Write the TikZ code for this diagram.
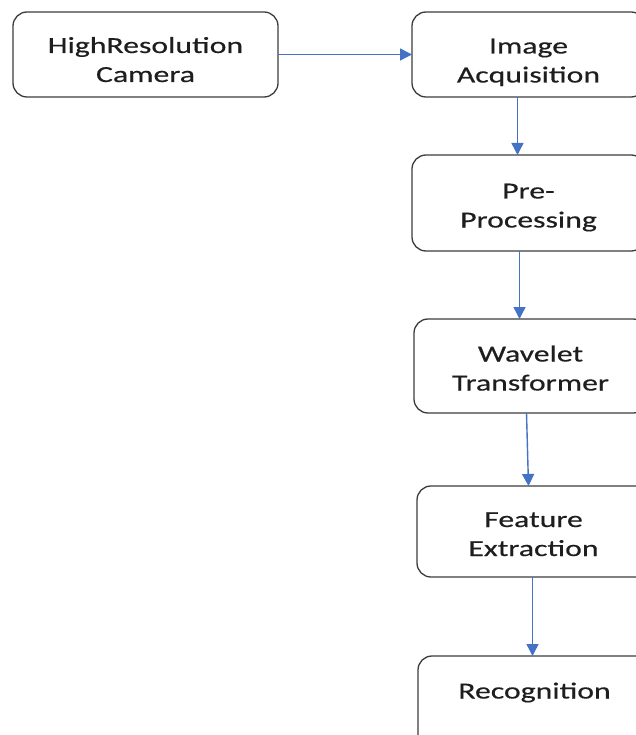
\documentclass[tikz,border=0pt]{standalone}
\usepackage{fontspec}
\setmainfont{Carlito}[FakeStretch=1.38, FakeBold=0.4]
\usepackage{tikz}
\usetikzlibrary{arrows.meta,positioning}
\definecolor{flowblue}{RGB}{68,114,196}
\definecolor{boxgray}{RGB}{60,60,60}
\definecolor{textgray}{RGB}{30,30,30}

\begin{document}
\begin{tikzpicture}[x=1pt, y=1pt, node distance=58pt, auto,
		stage/.style={draw=boxgray, line width=1.3pt, rounded corners=14pt, align=center,
			minimum width=233pt, minimum height=85pt, inner sep=0pt, outer sep=0pt,
			text height=49pt, text depth=0pt, text=textgray, font=\fontsize{23}{29}\selectfont},
		flow/.style={draw=flowblue, line width=1.4pt, -{Triangle[length=12pt, width=12pt]}}]
					\useasboundingbox (0,0) rectangle (636,-735);
					\node[stage, minimum width=265pt, text height=55pt] (camera) at (145.5,-54.5) {HighResolution\\Camera};
					\node[stage, right=134pt of camera, text height=56pt] (acq) {Image\\Acquisition};
					\node[stage, below=58pt of acq, minimum height=96pt] (pre) {Pre-\\Processing};
					\node[stage, below=68pt of pre, minimum height=94pt, xshift=2pt] (wavelet) {Wavelet\\Transformer};
					\node[stage, below=73pt of wavelet, minimum height=91pt, xshift=3pt] (feature) {Feature\\Extraction};
					\node[stage, below=79pt of feature, minimum height=94pt, text height=16pt, text depth=25pt, xshift=1pt] (recog) {Recognition};
			
					\draw[flow] (camera) -- (acq);
					\draw[flow] ([xshift=-11pt]acq.south) -- ([xshift=-11pt]pre.north);
					\draw[flow] ([xshift=-9pt]pre.south) -- ([xshift=-11pt]wavelet.north);
					\draw[flow] ([xshift=-4pt]wavelet.south) -- ([xshift=-5pt]feature.north);
					\draw[flow] ([xshift=-1pt]feature.south) -- ([xshift=-2pt]recog.north);
                \end{tikzpicture}
\end{document}
